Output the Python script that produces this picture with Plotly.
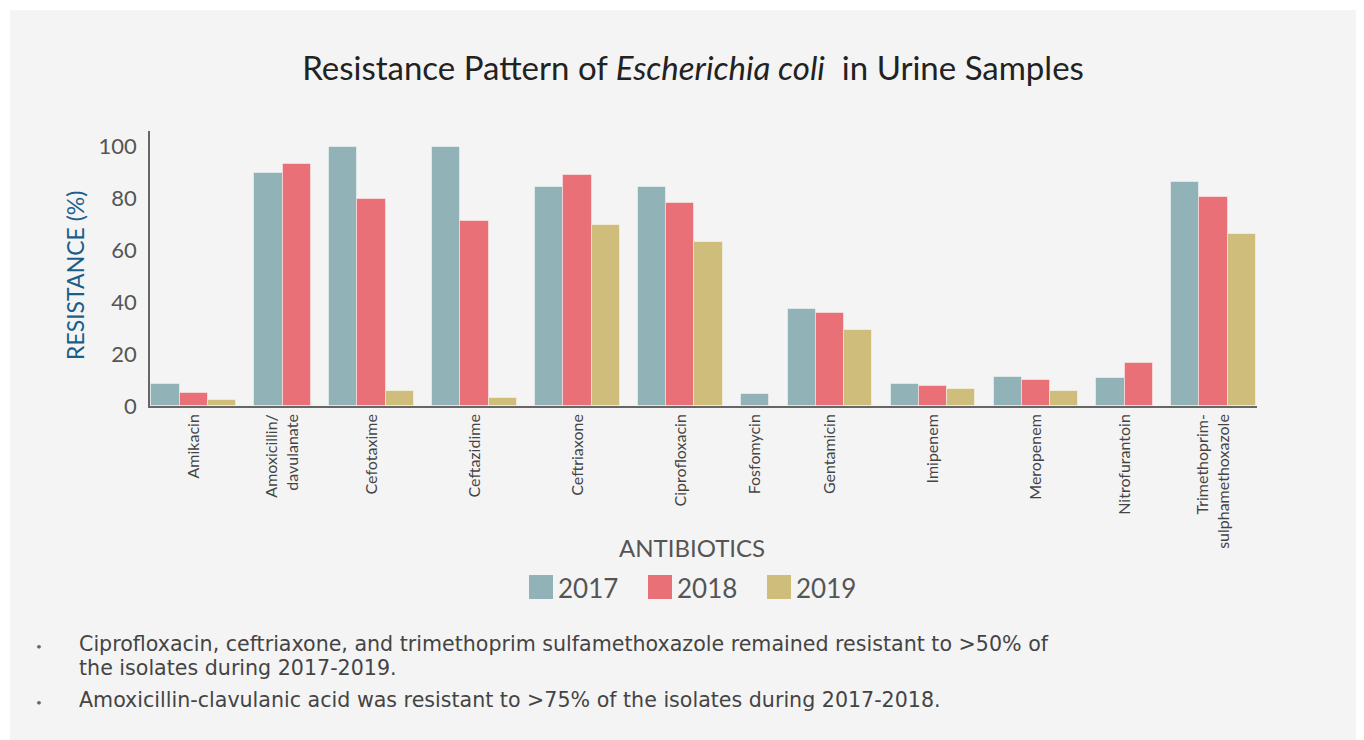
import plotly.graph_objects as go

# ---------------- data ----------------
antibiotics = ["Amikacin", "Amoxicillin/<br>davulanate", "Cefotaxime", "Ceftazidime",
               "Ceftriaxone", "Ciprofloxacin", "Fosfomycin", "Gentamicin", "Imipenem",
               "Meropenem", "Nitrofurantoin", "Trimethoprim-<br>sulphamethoxazole"]
years = ["2017", "2018", "2019"]
res_2017 = [8.5, 89.8, 100.0, 99.7, 84.3, 84.3, 4.8, 37.5, 8.5, 11.2, 10.7, 86.4]
res_2018 = [5.0, 93.3, 79.8, 71.2, 89.1, 78.3, None, 35.9, 7.6, 10.0, 16.5, 80.7]
res_2019 = [2.3, None, 5.7, 3.1, 69.7, 63.2, None, 29.2, 6.6, 5.8, None, 66.3]
y_ticks = [0, 20, 40, 60, 80, 100]
notes = [
    "Ciprofloxacin, ceftriaxone, and trimethoprim sulfamethoxazole remained resistant to >50% of<br>the isolates during 2017-2019.",
    "Amoxicillin-clavulanic acid was resistant to >75% of the isolates during 2017-2018.",
]
title_text = "Resistance Pattern of <i>Escherichia coli</i>  in Urine Samples"

# ---------------- style ----------------
colors = ["#91B3B7", "#EA7078", "#CFBE7B"]
FONT = "Lato"
NOTE_FONT = "DejaVu Sans"
W, H = 1364, 740
OFF = 8  # page offset of the figure (body margin)
# plot area in page pixels
PX0, PX1, PY0, PY1 = 150, 1257, 131, 406
L, R, T, B = PX0 - OFF, W - (PX1 - OFF), PY0 - OFF, H - (PY1 - OFF)
PW, PH = PX1 - PX0, PY1 - PY0
BAR_W = 1.0
GROUP_GAP = 0.65


def px_x(px):
    return (px - PX0) / PW


def px_y(py):
    return (PY1 - py) / PH


# packed group layout: only present bars take a slot
series = [res_2017, res_2018, res_2019]
xs = [[] for _ in series]
ys = [[] for _ in series]
centers = []
cursor = 0.0
for i in range(len(antibiotics)):
    start = cursor
    for s, vals in enumerate(series):
        v = vals[i]
        if v is not None:
            xs[s].append(cursor + BAR_W / 2)
            ys[s].append(v)
            cursor += BAR_W
    centers.append((start + cursor) / 2)
    cursor += GROUP_GAP
total = cursor - GROUP_GAP

fig = go.Figure()
for s, yr in enumerate(years):
    fig.add_trace(go.Bar(
        x=xs[s], y=ys[s], name=yr, width=BAR_W,
        marker=dict(color=colors[s], line=dict(color="rgba(255,255,255,0.45)", width=1)),
        showlegend=False,
    ))

shapes = [dict(type="rect", xref="paper", yref="paper", layer="below",
               x0=px_x(10), x1=px_x(W + 20), y0=px_y(H + 20), y1=px_y(10),
               fillcolor="#F4F4F4", line=dict(width=0))]
annotations = []

# y-axis title
annotations.append(dict(text="RESISTANCE (%)", xref="paper", yref="paper",
                        x=px_x(75), y=px_y(276), textangle=-90, showarrow=False,
                        xanchor="center", yanchor="middle",
                        font=dict(family=FONT, size=23, color="#1B5E8A")))
# x-axis title
annotations.append(dict(text="ANTIBIOTICS", xref="paper", yref="paper",
                        x=px_x(692), y=px_y(547), showarrow=False,
                        xanchor="center", yanchor="middle",
                        font=dict(family=FONT, size=24, color="#555555")))
# custom legend
leg_x = [529, 648, 767]
for s, yr in enumerate(years):
    shapes.append(dict(type="rect", xref="paper", yref="paper",
                       x0=px_x(leg_x[s]), x1=px_x(leg_x[s] + 24),
                       y0=px_y(599), y1=px_y(575),
                       fillcolor=colors[s], line=dict(width=0)))
    annotations.append(dict(text=yr, xref="paper", yref="paper",
                            x=px_x(leg_x[s] + 27), y=px_y(588), showarrow=False,
                            xanchor="left", yanchor="middle",
                            font=dict(family=FONT, size=26, color="#555555")))
# notes (one bullet per note, wrapped lines 24px apart)
note_top = [644, 700]
LINE_GAP = 24
for k, note in enumerate(notes):
    for j, line in enumerate(note.split("<br>")):
        annotations.append(dict(text=line, xref="paper", yref="paper",
                                x=px_x(77), y=px_y(note_top[k] + j * LINE_GAP),
                                showarrow=False, xanchor="left", yanchor="middle",
                                align="left",
                                font=dict(family=NOTE_FONT, size=20.6, color="#444444")))
    annotations.append(dict(text="•", xref="paper", yref="paper",
                            x=px_x(39), y=px_y(note_top[k] + 2), showarrow=False,
                            xanchor="center", yanchor="middle",
                            font=dict(family=FONT, size=10, color="#666666")))

fig.update_layout(
    width=W, height=H,
    margin=dict(l=L, r=R, t=T, b=B, pad=0),
    paper_bgcolor="#FFFFFF", plot_bgcolor="rgba(0,0,0,0)",
    barmode="overlay", bargap=0,
    title=dict(text=title_text, xref="container", yref="container",
               x=(693 - OFF) / W, y=1 - (68 - OFF) / H, xanchor="center", yanchor="middle",
               font=dict(family=FONT, size=33, color="#222222")),
    xaxis=dict(range=[-0.05, total + 0.04], tickmode="array", tickvals=centers,
               ticktext=antibiotics, tickangle=-90, showgrid=False, zeroline=False,
               showline=True, linecolor="#666666", linewidth=1.5, ticks="",
               ticklabelstandoff=0,
               tickfont=dict(family=FONT, size=16, color="#444444")),
    yaxis=dict(range=[0, PH / 2.593], tickmode="array", tickvals=y_ticks,
               showgrid=False, zeroline=False, showline=True, linecolor="#666666",
               linewidth=1.5, ticks="", ticklabelstandoff=7,
               tickfont=dict(family=FONT, size=22, color="#555555")),
    shapes=shapes, annotations=annotations,
)

fig.write_html("out.html", config={"displayModeBar": False})
